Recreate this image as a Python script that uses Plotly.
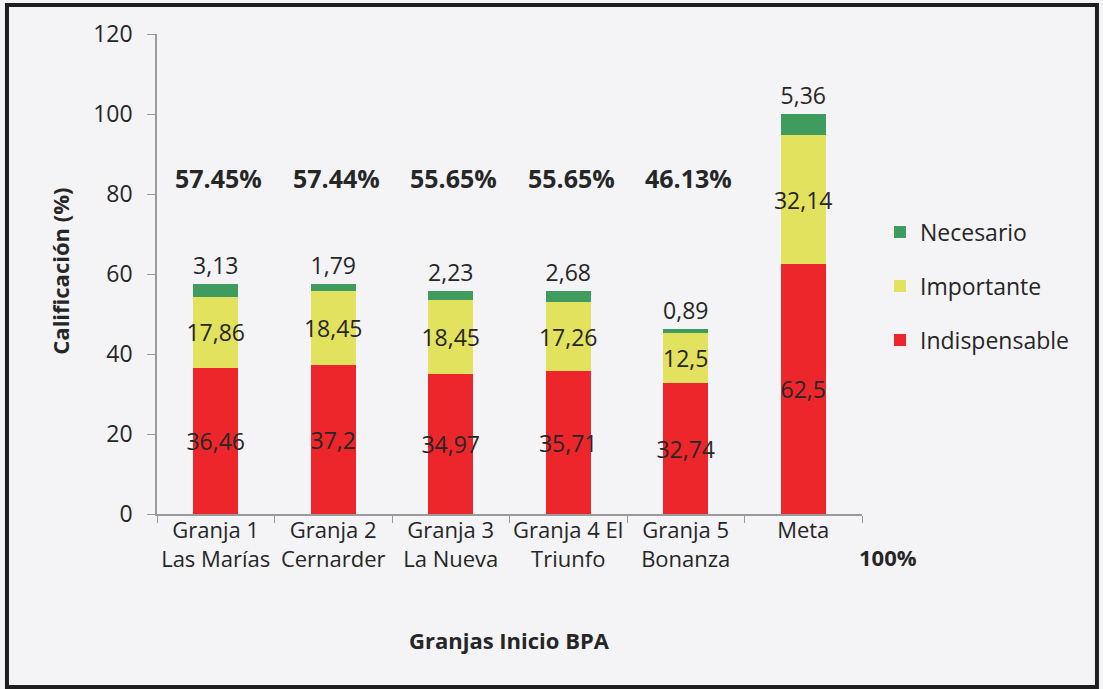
import plotly.graph_objects as go

categories = ["Granja 1<br>Las Marías", "Granja 2<br>Cernarder", "Granja 3<br>La Nueva",
              "Granja 4 El<br>Triunfo", "Granja 5<br>Bonanza", "Meta"]
indispensable = [36.46, 37.2, 34.97, 35.71, 32.74, 62.5]
importante = [17.86, 18.45, 18.45, 17.26, 12.5, 32.14]
necesario = [3.13, 1.79, 2.23, 2.68, 0.89, 5.36]
totals_pct = ["57.45%", "57.44%", "55.65%", "55.65%", "46.13%"]
meta_total = "100%"
y_ticks = [0, 20, 40, 60, 80, 100, 120]

FONT = "Open Sans"
TXT = "#262626"
RED = "#ec262b"
YEL = "#e2e25e"
GRN = "#3f9b5e"
BG = "#f4f4f6"


def fmt(v):
    return str(v).replace(".", ",")


fig = go.Figure()
for name, vals, col, pos, rank in [
    ("Indispensable", indispensable, RED, "inside", 3),
    ("Importante", importante, YEL, "inside", 2),
    ("Necesario", necesario, GRN, "outside", 1),
]:
    fig.add_trace(go.Bar(
        x=categories, y=vals, name=name, marker=dict(color=col, line=dict(width=0)),
        text=[fmt(v) for v in vals], textposition=pos, insidetextanchor="middle",
        textangle=0, constraintext="none", cliponaxis=False,
        textfont=dict(family=FONT, size=23, color=TXT),
        legendgroup=name, legendrank=rank,
    ))

annotations = []
for cat, t in zip(categories, totals_pct):
    annotations.append(dict(x=cat, y=84, xref="x", yref="y", text="<b>" + t + "</b>",
                            xanchor="center", yanchor="middle", xshift=3,
                            showarrow=False, font=dict(family=FONT, size=25, color=TXT)))
annotations.append(dict(x=1.037, y=-0.0896, xref="paper", yref="paper", text="<b>" + meta_total + "</b>",
                        xanchor="center", yanchor="middle",
                        showarrow=False, font=dict(family=FONT, size=22, color=TXT)))
annotations.append(dict(x=0.5, y=-0.2625, xref="paper", yref="paper", text="<b>Granjas Inicio BPA</b>",
                        xanchor="center", yanchor="middle",
                        showarrow=False, font=dict(family=FONT, size=22, color=TXT)))
annotations.append(dict(x=-0.1375, y=0.505, xref="paper", yref="paper", text="<b>Calificación (%)</b>",
                        xanchor="center", yanchor="middle",
                        textangle=-90, showarrow=False, font=dict(family=FONT, size=22, color=TXT)))

fig.update_layout(
    width=1103, height=689,
    margin=dict(l=157, r=241, t=34, b=175),
    barmode="stack", bargap=0.615,
    paper_bgcolor=BG, plot_bgcolor=BG,
    font=dict(family=FONT, size=22, color=TXT),
    showlegend=True,
    legend=dict(x=1.0255, y=0.632, xanchor="left", yanchor="top",
                traceorder="grouped", tracegroupgap=21,
                font=dict(family=FONT, size=23, color=TXT), bgcolor="rgba(0,0,0,0)"),
    xaxis=dict(showline=True, linecolor="#9a9a9a", linewidth=1.5, ticks="outside",
               tickson="boundaries", ticklen=7, tickcolor="#9a9a9a", tickangle=0,
               ticklabelstandoff=-4,
               tickfont=dict(family=FONT, size=22, color=TXT), showgrid=False),
    yaxis=dict(range=[0, 120], tickvals=y_ticks, showline=True, linecolor="#9a9a9a", linewidth=1.5,
               ticks="outside", ticklen=8, tickcolor="#9a9a9a", ticklabelstandoff=10,
               tickfont=dict(family=FONT, size=23, color=TXT), showgrid=False, zeroline=False),
    annotations=annotations,
    shapes=[dict(type="rect", xref="paper", yref="paper", x0=-0.2128, x1=1.3333, y0=-0.3604, y1=1.0604,
                 line=dict(color="#1e1e1e", width=4), fillcolor="rgba(0,0,0,0)", layer="above")],
)

fig.write_html("out.html", config={"displayModeBar": False},
               post_script="document.body.style.margin='0';document.body.style.background='#f4f4f6';")
